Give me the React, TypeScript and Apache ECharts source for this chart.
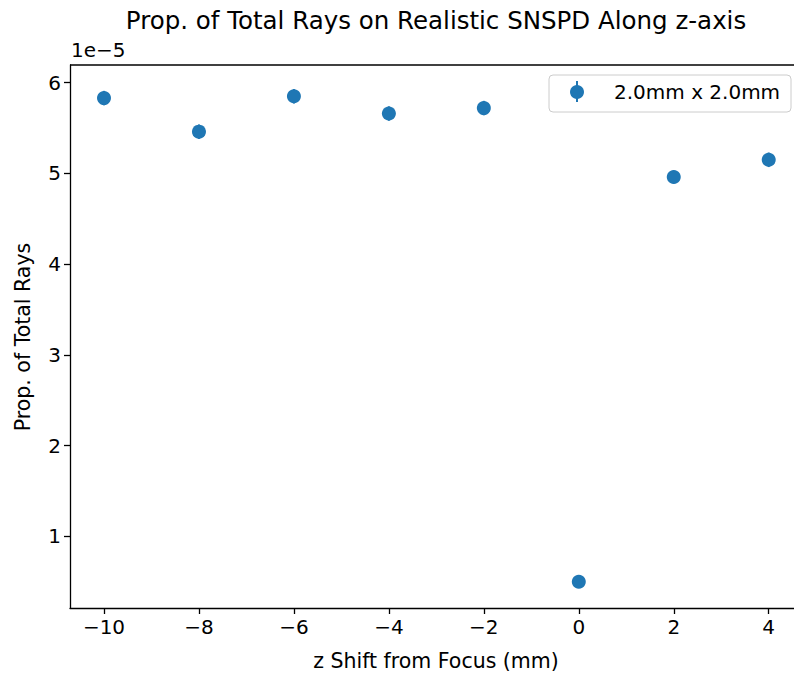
import React, { useEffect, useRef } from "react";
import * as echarts from "echarts";

// z shift of the detector from focus (mm)
const zShift: number[] = [-10, -8, -6, -4, -2, 0, 2, 4];
// proportion of total rays reaching the SNSPD, in units of 1e-5
const propRays: number[] = [5.83, 5.46, 5.85, 5.66, 5.72, 0.5, 4.96, 5.15];
// one-sigma uncertainty of each proportion, in units of 1e-5
const propErr: number[] = [0.08, 0.08, 0.08, 0.08, 0.08, 0.03, 0.07, 0.08];

const xTicks: number[] = [-10, -8, -6, -4, -2, 0, 2, 4];
const yTicks: number[] = [1, 2, 3, 4, 5, 6];

const seriesName = "2.0mm x 2.0mm";
const BLUE = "#1f77b4";
const FONT = "DejaVu Sans";
const FS = 20;

// plot area
const LEFT = 70;
const TOP = 65;
const BOTTOM = 608;
const RIGHT = 794;
const X_MIN = -10.716;
const PX_PER_X = 47.48;

export default function App() {
  const ref = useRef<HTMLDivElement>(null);

  useEffect(() => {
    if (!ref.current) return;
    const chart = echarts.init(ref.current, undefined, { renderer: "svg" });

    const points = zShift.map((z, i) => [z, propRays[i]]);
    const bars = zShift.map((z, i) => [z, propRays[i] - propErr[i], propRays[i] + propErr[i]]);
    const xMax = X_MIN + (RIGHT - LEFT) / PX_PER_X;

    chart.setOption({
      animation: false,
      backgroundColor: "#ffffff",
      textStyle: { fontFamily: FONT },
      grid: { left: LEFT, top: TOP, width: RIGHT - LEFT, height: BOTTOM - TOP, containLabel: false },
      xAxis: {
        type: "value",
        min: X_MIN,
        max: xMax,
        splitLine: { show: false },
        axisLine: { show: true, onZero: false, lineStyle: { color: "#000", width: 1.3 } },
        axisTick: { show: true, inside: false, length: 6, customValues: xTicks, lineStyle: { color: "#000", width: 1.3 } },
        axisLabel: {
          customValues: xTicks,
          color: "#000",
          fontSize: FS,
          fontFamily: FONT,
          margin: 9,
          formatter: (v: number) => (v < 0 ? "\u2212" + Math.abs(v) : String(v)),
        },
      },
      yAxis: {
        type: "value",
        min: 0.21,
        max: 6.195,
        splitLine: { show: false },
        axisLine: { show: true, onZero: false, lineStyle: { color: "#000", width: 1.3 } },
        axisTick: { show: true, inside: false, length: 6, customValues: yTicks, lineStyle: { color: "#000", width: 1.3 } },
        axisLabel: {
          customValues: yTicks,
          color: "#000",
          fontSize: FS,
          fontFamily: FONT,
          margin: 9,
        },
      },
      series: [
        {
          type: "custom",
          name: "errors",
          silent: true,
          z: 2,
          data: bars,
          renderItem: (params: any, api: any) => {
            const x = api.value(0);
            const lo = api.coord([x, api.value(1)]);
            const hi = api.coord([x, api.value(2)]);
            return {
              type: "line",
              shape: { x1: lo[0], y1: lo[1], x2: hi[0], y2: hi[1] },
              style: { stroke: BLUE, lineWidth: 2 },
            };
          },
        },
        {
          type: "scatter",
          name: seriesName,
          z: 3,
          symbol: "circle",
          symbolSize: 14,
          itemStyle: { color: BLUE, opacity: 1 },
          data: points,
        },
      ],
      graphic: [
        // top spine
        {
          type: "line",
          shape: { x1: LEFT, y1: TOP, x2: RIGHT, y2: TOP },
          style: { stroke: "#000", lineWidth: 1.3 },
        },
        {
          type: "text",
          x: 436,
          y: 20,
          style: {
            text: "Prop. of Total Rays on Realistic SNSPD Along z-axis",
            align: "center",
            verticalAlign: "middle",
            fontSize: 24.5,
            fontFamily: FONT,
            fill: "#000",
          },
        },
        {
          type: "text",
          x: 71,
          y: 50,
          style: {
            text: "1e\u22125",
            align: "left",
            verticalAlign: "middle",
            fontSize: FS,
            fontFamily: FONT,
            fill: "#000",
          },
        },
        {
          type: "text",
          x: 436,
          y: 661,
          style: {
            text: "z Shift from Focus (mm)",
            align: "center",
            verticalAlign: "middle",
            fontSize: 20.5,
            fontFamily: FONT,
            fill: "#000",
          },
        },
        {
          type: "text",
          x: 23,
          y: 337,
          rotation: Math.PI / 2,
          style: {
            text: "Prop. of Total Rays",
            align: "center",
            verticalAlign: "middle",
            fontSize: 20.5,
            fontFamily: FONT,
            fill: "#000",
          },
        },
        {
          type: "group",
          z: 10,
          children: [
            {
              type: "rect",
              shape: { x: 549, y: 75, width: 242, height: 37, r: 4 },
              style: { fill: "rgba(255,255,255,0.8)", stroke: "#cccccc", lineWidth: 1 },
            },
            {
              type: "line",
              shape: { x1: 577, y1: 81, x2: 577, y2: 102 },
              style: { stroke: BLUE, lineWidth: 2 },
            },
            {
              type: "circle",
              shape: { cx: 577, cy: 92, r: 7 },
              style: { fill: BLUE },
            },
            {
              type: "text",
              x: 614,
              y: 92,
              style: {
                text: seriesName,
                align: "left",
                verticalAlign: "middle",
                fontSize: FS,
                fontFamily: FONT,
                fill: "#000",
              },
            },
          ],
        },
      ],
    });

    return () => chart.dispose();
  }, []);

  return (
    <div
      ref={ref}
      style={{ position: "fixed", left: 0, top: 0, width: 794, height: 675, background: "#fff" }}
    />
  );
}
